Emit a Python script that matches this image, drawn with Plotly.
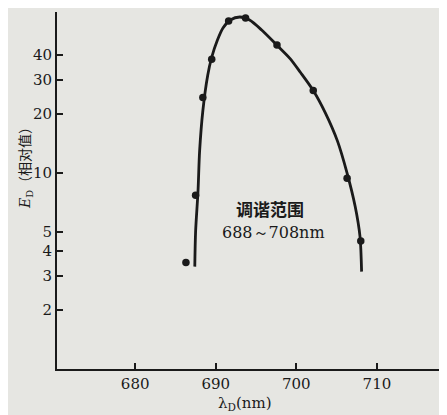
import plotly.graph_objects as go

# measured points
pt_x = [686.3, 687.5, 688.4, 689.5, 691.6, 693.7, 697.6, 702.1, 706.3, 708.0]
pt_y = [3.5, 7.7, 24.3, 38.1, 59.7, 61.8, 45.0, 26.4, 9.4, 4.5]

# fitted curve
cv_x = [687.4, 687.5, 687.8, 688.0, 688.4, 689.0, 689.5, 690.2, 690.9, 691.8,
        693.0, 694.2, 695.7, 697.6, 699.2, 700.5, 702.1, 703.6, 705.1, 706.3,
        707.3, 707.9, 708.1]
cv_y = [3.33, 5.03, 8.08, 12.97, 20.8, 31.5, 39.0, 47.6, 55.0, 60.4,
        62.6, 60.4, 53.7, 44.9, 38.5, 32.7, 26.4, 20.3, 14.6, 10.0,
        6.77, 4.75, 3.14]

x_ticks = [680, 690, 700, 710]
y_ticks = [2, 3, 4, 5, 10, 20, 30, 40]

ink = "#1a1a1a"
paper = "#e6e6e2"
serif = "DejaVu Serif, Liberation Serif, serif"

# plot area in page pixels: x 57..447, y 12..369 (page has 8px body margin)
PW, PH = 390, 357


def px(x):
    return (x - 57) / PW


def py(y):
    return 1 - (y - 12) / PH


fig = go.Figure()
fig.add_trace(go.Scatter(x=cv_x, y=cv_y, mode="lines",
                         line=dict(color=ink, width=2.8, shape="spline", smoothing=0.8),
                         hoverinfo="skip", showlegend=False))
fig.add_trace(go.Scatter(x=pt_x, y=pt_y, mode="markers",
                         marker=dict(color=ink, size=7.5), showlegend=False))

axis_common = dict(showline=True, linecolor=ink, linewidth=2, ticks="inside",
                   ticklen=6, tickwidth=1.5, tickcolor=ink, showgrid=False,
                   zeroline=False, automargin=False,
                   tickfont=dict(family=serif, size=15, color=ink))

fig.update_layout(
    width=439, height=407, autosize=False,
    margin=dict(l=49, r=0, t=4, b=46, pad=0),
    paper_bgcolor=paper, plot_bgcolor=paper,
    font=dict(family=serif, color=ink, size=14),
    xaxis=dict(range=[670.3, 718.7], tickvals=x_ticks,
               ticktext=[str(v) for v in x_ticks], **axis_common),
    yaxis=dict(type="log", range=[0, 1.822], tickvals=y_ticks,
               ticktext=[str(v) for v in y_ticks], **axis_common),
    annotations=[
        dict(text="<i>E</i><sub>D</sub>（相对值）", xref="paper", yref="paper",
             x=px(26), y=py(165), xanchor="center", yanchor="middle",
             textangle=-90, showarrow=False,
             font=dict(family="DejaVu Serif, Noto Sans CJK SC", size=14, color=ink)),
        dict(text="λ<sub>D</sub>(nm)", xref="paper", yref="paper",
             x=px(245), y=py(403), xanchor="center", yanchor="middle",
             showarrow=False, font=dict(family=serif, size=15, color=ink)),
        dict(text="<b>调谐范围</b>", xref="paper", yref="paper",
             x=px(270), y=py(208), xanchor="center", yanchor="middle",
             showarrow=False,
             font=dict(family="Noto Sans CJK SC", size=17, color=ink)),
        dict(text="688～708nm", xref="paper", yref="paper",
             x=px(273), y=py(232), xanchor="center", yanchor="middle",
             showarrow=False, font=dict(family=serif, size=16, color=ink)),
    ],
)

fig.write_html("out.html")
